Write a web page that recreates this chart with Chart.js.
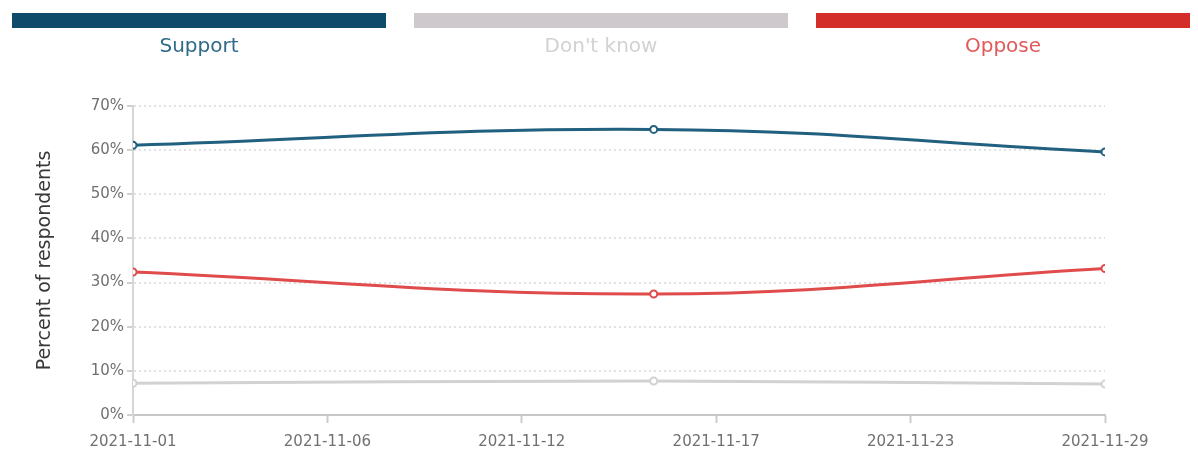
<!DOCTYPE html>
<html><head><meta charset="utf-8">
<script src="https://cdn.jsdelivr.net/npm/chart.js@4"></script>
<style>
html,body{margin:0;padding:0;background:#fff;}
#wrap{position:relative;width:1198px;height:460px;overflow:hidden;}
#legend{position:absolute;left:0;top:0;width:1198px;height:70px;z-index:2;}
.item{position:absolute;top:13px;width:374px;text-align:center;font-family:"DejaVu Sans",sans-serif;font-size:20px;}
.bar{height:15px;width:100%;}
.lbl{margin-top:6px;line-height:22px;}
canvas{position:absolute;left:0;top:0;}
</style>
</head><body>
<div id="wrap">
<div id="legend"></div>
<canvas id="c" width="1198" height="460"></canvas>
</div>
<script>
// ---- data ----
const dates = ["2021-11-01", "2021-11-16", "2021-11-29"];
const support = [61.1, 64.7, 59.6];
const dontKnow = [7.2, 7.7, 7.0];
const oppose = [32.4, 27.4, 33.2];
const seriesNames = ["Support", "Don't know", "Oppose"];
const yTickValues = [0, 10, 20, 30, 40, 50, 60, 70];
const yTitle = "Percent of respondents";

// ---- styles ----
const lineColors = ["#21607f", "#d4d1d4", "#e04b4b"];
const barColors = ["#0e4a69", "#cdc9cd", "#d42e2b"];
const textColors = ["#2f6a88", "#d2d2d2", "#e05a5a"];

const DAY = 86400000;
const t0 = Date.parse(dates[0] + "T00:00:00Z");
const toDay = d => (Date.parse(d + "T00:00:00Z") - t0) / DAY;
const xMax = toDay(dates[dates.length - 1]);
const fmt = v => new Date(t0 + Math.floor(v + 1e-9) * DAY).toISOString().slice(0, 10);

const seriesVals = [support, dontKnow, oppose];

// legend
const leg = document.getElementById('legend');
seriesNames.forEach((n, i) => {
  const it = document.createElement('div');
  it.className = 'item';
  it.style.left = (12 + i * 402) + 'px';
  const b = document.createElement('div'); b.className = 'bar'; b.style.background = barColors[i];
  const l = document.createElement('div'); l.className = 'lbl'; l.style.color = textColors[i]; l.textContent = n;
  it.appendChild(b); it.appendChild(l); leg.appendChild(it);
});

const datasets = seriesNames.map((n, i) => ({
  label: n,
  data: dates.map((d, j) => ({x: toDay(d), y: seriesVals[i][j]})),
  borderColor: lineColors[i],
  backgroundColor: '#ffffff',
  borderWidth: 3,
  pointRadius: 3.5,
  pointBorderWidth: 2,
  pointBackgroundColor: '#ffffff',
  pointBorderColor: lineColors[i],
  tension: 0.4,
  fill: false
}));

new Chart(document.getElementById('c'), {
  type: 'line',
  data: {datasets},
  options: {
    responsive: false,
    animation: false,
    layout: {padding: {left: 30, right: 93, top: 106, bottom: 0}},
    plugins: {legend: {display: false}, tooltip: {enabled: false}},
    scales: {
      x: {
        type: 'linear',
        min: 0, max: xMax,
        afterBuildTicks: s => { s.ticks = [0,1,2,3,4,5].map(k => ({value: k * xMax / 5})); },
        afterFit: s => { s.height = 45; },
        ticks: {
          callback: v => fmt(v),
          font: {family: 'DejaVu Sans', size: 15},
          color: '#707070',
          padding: 10,
          maxRotation: 0,
          autoSkip: false
        },
        grid: {drawOnChartArea: false, drawTicks: true, tickLength: 8, tickColor: '#cccccc', tickWidth: 2},
        border: {color: '#c8c8c8', width: 2}
      },
      y: {
        min: 0, max: 70,
        afterBuildTicks: s => { s.ticks = yTickValues.map(v => ({value: v})); },
        afterFit: s => { s.width = 103; },
        ticks: {
          callback: v => v + '%',
          font: {family: 'DejaVu Sans', size: 15},
          color: '#707070',
          padding: 3
        },
        grid: {
          color: '#e2e2e2', lineWidth: 2,
          tickLength: 6, tickColor: '#d0d0d0', tickBorderDash: [], tickWidth: 2
        },
        border: {color: '#d6d6d6', width: 2, dash: [2, 3]},
        title: {display: true, text: yTitle, color: '#383838', font: {family: 'DejaVu Sans', size: 19}}
      }
    }
  }
});
</script>
</body></html>
